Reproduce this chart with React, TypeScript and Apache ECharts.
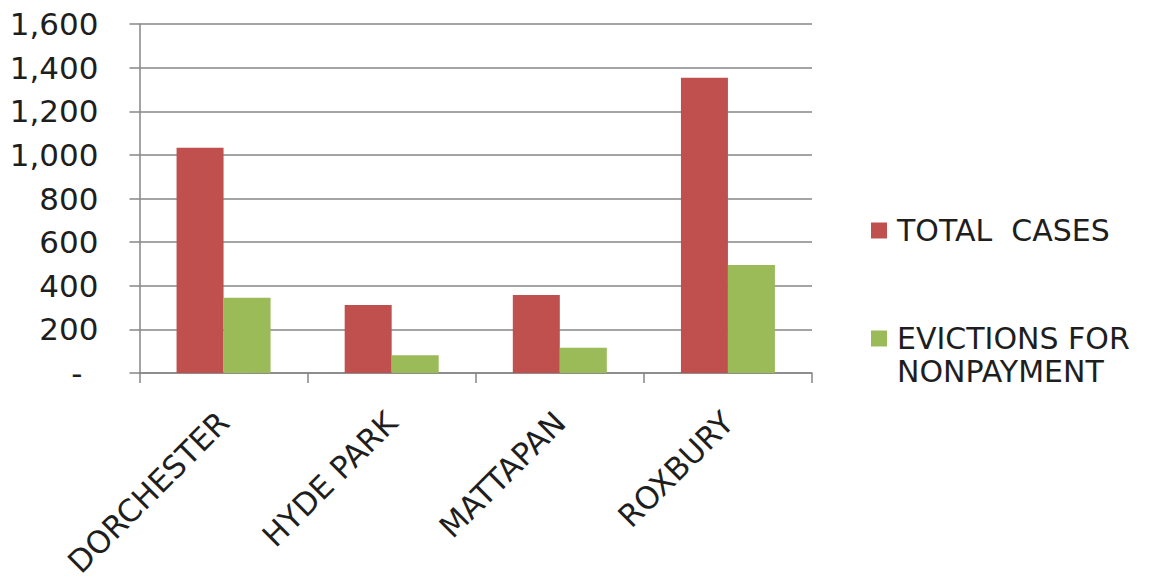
import React, { useEffect, useRef } from "react";
import * as echarts from "echarts";

const categories = ["DORCHESTER", "HYDE PARK", "MATTAPAN", "ROXBURY"];
const totalCases = [1033, 312, 358, 1354];
const evictionsNonpayment = [345, 81, 116, 495];
const seriesNames = ["TOTAL  CASES", "EVICTIONS FOR NONPAYMENT"];
const yTicks = { min: 0, max: 1600, interval: 200 };

const FONT = "DejaVu Sans";

export default function App() {
  const ref = useRef<HTMLDivElement>(null);
  useEffect(() => {
    document.body.style.margin = "0";
    const chart = echarts.init(ref.current!, undefined, { renderer: "svg" });
    chart.setOption({
      animation: false,
      backgroundColor: "#ffffff",
      grid: { left: 139.5, right: 346, top: 24, bottom: 211 },
      legend: {
        orient: "vertical",
        left: 866,
        top: 209,
        itemGap: 42,
        itemWidth: 16,
        itemHeight: 16,
        icon: "rect",
        data: seriesNames,
        formatter: (name: string) =>
          name === seriesNames[1] ? "\nEVICTIONS FOR\nNONPAYMENT" : name,
        textStyle: {
          fontFamily: FONT,
          fontSize: 30,
          lineHeight: 33,
          color: "#1e1e1e",
          padding: [0, 0, 0, 5],
        },
      },
      xAxis: {
        type: "category",
        data: categories,
        axisLine: { show: true, lineStyle: { color: "#868686", width: 1.5 } },
        axisTick: { show: true, length: 10, lineStyle: { color: "#868686", width: 1.5 } },
        axisLabel: {
          rotate: 45,
          margin: 44,
          interval: 0,
          fontFamily: FONT,
          fontSize: 31,
          color: "#1e1e1e",
        },
      },
      yAxis: {
        type: "value",
        min: yTicks.min,
        max: yTicks.max,
        interval: yTicks.interval,
        axisLine: { show: true, lineStyle: { color: "#868686", width: 1.5 } },
        axisTick: { show: true, length: 10, lineStyle: { color: "#868686", width: 1.5 } },
        splitLine: { show: true, lineStyle: { color: "#868686", width: 1.5 } },
        axisLabel: {
          margin: 41,
          fontFamily: FONT,
          fontSize: 31,
          color: "#1e1e1e",
          formatter: (v: number) =>
            v === 0 ? "{d|-}" : v.toLocaleString("en-US"),
          rich: {
            d: {
              fontFamily: FONT,
              fontSize: 31,
              color: "#1e1e1e",
              padding: [0, 16, 0, 0],
            },
          },
        },
      },
      series: [
        {
          name: seriesNames[0],
          type: "bar",
          data: totalCases,
          barWidth: 47,
          barGap: "0%",
          itemStyle: { color: "#C0504D" },
        },
        {
          name: seriesNames[1],
          type: "bar",
          data: evictionsNonpayment,
          barWidth: 47,
          barGap: "0%",
          itemStyle: { color: "#9BBB59" },
        },
      ],
    });
    return () => chart.dispose();
  }, []);
  return <div ref={ref} style={{ width: 1158, height: 584 }} />;
}
